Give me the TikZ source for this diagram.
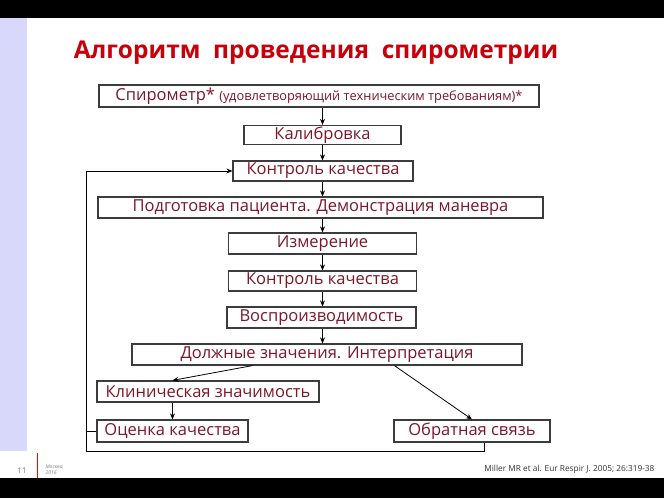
\documentclass[tikz,border=0pt]{standalone}
\usepackage{fontspec}
\setmainfont{Open Sans}
\usetikzlibrary{arrows.meta,calc}
\definecolor{boxtext}{RGB}{125,22,42}
\definecolor{titlered}{RGB}{200,0,10}
\definecolor{lav}{RGB}{216,216,250}
\definecolor{frame}{RGB}{60,60,60}
\tikzset{
  bx/.style={draw=frame,line width=1.2pt,fill=white,inner sep=0pt,text=boxtext,
    font=\fontsize{16.5}{18}\selectfont,minimum height=22pt},
  arr/.style={draw=black,line width=0.8pt,-{Stealth[length=6pt,width=5pt]}},
  ln/.style={draw=black,line width=0.8pt}
}
\begin{document}
\begin{tikzpicture}[x=1pt,y=-1pt]
\useasboundingbox (0,0) rectangle (664,498);
\fill[white] (0,0) rectangle (664,498);
\fill[black] (0,0) rectangle (664,18);
\fill[black] (0,478) rectangle (664,498);
\fill[lav] (0,18) rectangle (27,451);
\draw[red,line width=0.8pt] (37,453) -- (37,478);
\node[text=gray,font=\fontsize{8}{9}\selectfont] (pg) at (22,471) {11};
\node[text=gray,font=\fontsize{5}{6}\selectfont\itshape,align=left,anchor=west] (city) at (42,470) {Москва,\\2016};
\node[anchor=east,font=\fontsize{8.3}{9}\selectfont,text=black!80] (ref) at (658,469) {Miller MR et al. Eur Respir J. 2005; 26:319-38};
\node[text=titlered,font=\fontsize{24.5}{28}\bfseries] (title) at (316,53) {Алгоритм\ \ проведения\ \ спирометрии};

\node[bx,minimum width=440pt] (b1) at (319,96) {Спирометр*~{\fontsize{12.8}{14}\selectfont (удовлетворяющий техническим требованиям)*}};
\node[bx,minimum width=157pt,minimum height=19pt] (b2) at (322.5,135) {Калибровка};
\node[bx,minimum width=180pt,minimum height=20pt] (b3) at (323,171) {Контроль качества};
\node[bx,minimum width=445pt,minimum height=21pt] (b4) at (320.5,207.5) {Подготовка пациента. Демонстрация маневра};
\node[bx,minimum width=188pt,minimum height=21pt] (b5) at (322.5,243.5) {Измерение};
\node[bx,minimum width=188pt,minimum height=20pt] (b6) at (322.5,281) {Контроль качества};
\node[bx,minimum width=189pt,minimum height=21pt] (b7) at (321.5,317.5) {Воспроизводимость};
\node[bx,minimum width=390pt,minimum height=21pt] (b8) at (327,354.5) {Должные значения. Интерпретация};
\node[bx,minimum width=222pt,minimum height=21pt] (b9) at (208,391.5) {Клиническая значимость};
\node[bx,minimum width=151pt,minimum height=22pt] (b10) at (172.5,431) {Оценка качества};
\node[bx,minimum width=156pt,minimum height=22pt] (b11) at (472,431) {Обратная связь};

\coordinate (loopc) at (86,451);
\draw[arr] (b1.south -| b2.north) -- (b2.north);
\draw[arr] (b2.south) -- (b3.north -| b2.south);
\draw[arr] (b3.south -| b2.south) -- (b4.north -| b2.south);
\draw[arr] (b4.south -| b2.south) -- (b5.north -| b2.south);
\draw[arr] (b5.south) -- (b6.north);
\draw[arr] (b6.south -| b2.south) -- (b7.north -| b2.south);
\draw[arr] (b7.south -| b2.south) -- (b8.north -| b2.south);
\draw[arr] ($(b8.south west)+(121,0)$) -- (b9.north -| b10.north);
\draw[arr] ($(b8.south west)+(263,0)$) -- (b11.north);
\draw[arr] (b9.south -| b10.north) -- (b10.north);
\draw[arr] ($(b11.south)+(12,0)$) |- (loopc) |- (b3.west);
\draw[ln] (b10.west) -- (b10.west -| loopc);
\end{tikzpicture}
\end{document}
